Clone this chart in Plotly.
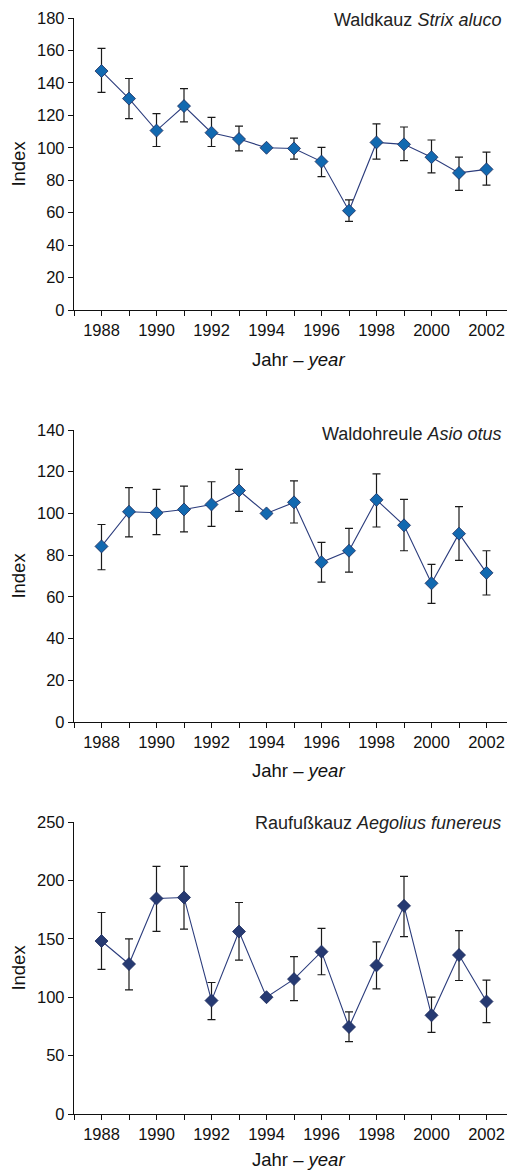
import plotly.graph_objects as go

years = list(range(1988, 2003))
xtick_vals = list(range(1987, 2004))
xtick_text = [str(y) if y % 2 == 0 else "" for y in xtick_vals]

# Waldkauz Strix aluco
strix_val = [147.3, 130.3, 110.6, 125.7, 109.3, 105.4, 100.0, 99.6, 91.5, 61.2, 103.3, 102.1, 94.2, 84.5, 86.7]
strix_hi  = [161.3, 142.7, 121.1, 136.5, 118.7, 113.3, 100.0, 106.0, 100.2, 67.9, 114.7, 112.8, 104.8, 94.2, 97.3]
strix_lo  = [134.2, 118.0, 100.8, 116.0, 100.8, 98.1, 100.0, 93.0, 82.2, 54.6, 93.0, 92.1, 84.5, 73.7, 77.0]

# Waldohreule Asio otus
asio_val = [84.2, 100.8, 100.3, 101.9, 104.3, 111.0, 100.0, 105.3, 76.6, 82.1, 106.5, 94.3, 66.5, 90.3, 71.5]
asio_hi  = [94.7, 112.4, 111.5, 113.1, 115.2, 121.1, 100.0, 115.6, 86.1, 92.8, 119.0, 106.7, 75.6, 103.3, 82.1]
asio_lo  = [73.0, 88.8, 89.8, 91.2, 93.8, 101.0, 100.0, 95.4, 67.1, 71.9, 93.5, 82.1, 56.9, 77.5, 60.9]

# Raufusskauz Aegolius funereus
aeg_val = [148.1, 128.4, 184.5, 185.4, 97.1, 156.2, 100.0, 115.5, 139.0, 74.5, 127.2, 178.2, 84.5, 136.1, 96.3]
aeg_hi  = [172.5, 149.9, 212.0, 212.0, 112.6, 181.1, 100.0, 134.7, 159.0, 87.4, 147.3, 203.4, 100.0, 157.0, 114.6]
aeg_lo  = [123.8, 106.3, 156.4, 158.2, 80.8, 131.8, 100.0, 97.1, 119.2, 61.9, 107.2, 151.9, 69.9, 114.3, 78.2]

panels = [
    ("Waldkauz <i>Strix aluco</i>", strix_val, strix_hi, strix_lo, "#1269b0", [0, 180], 20),
    ("Waldohreule <i>Asio otus</i>", asio_val, asio_hi, asio_lo, "#1269b0", [0, 140], 20),
    ("Raufußkauz <i>Aegolius funereus</i>", aeg_val, aeg_hi, aeg_lo, "#263a72", [0, 250], 50),
]

OFF = 8  # page body margin
W, H = 515 - OFF, 1171 - OFF
ml, mr = 74 - OFF, 1
mt = 18 - OFF
mb = H - (1114 - OFF)
plot_h = H - mt - mb
plot_w = W - ml - mr
# panel pixel spans (top, bottom) in reference page pixels
spans = [(18, 310), (430, 722), (822, 1114)]
xtitle_y = [359, 770, 1159]
title_y = [20, 434, 823]

def py(ref_px):
    return (H - mb - (ref_px - OFF)) / plot_h

def px(ref_px):
    return ((ref_px - OFF) - ml) / plot_w

font_family = "Liberation Sans, Arial, Helvetica, sans-serif"
FS_TICK = 16.5
FS_TITLE = 18
FS_AXT = 18.5
fig = go.Figure()

for i, (title, val, hi, lo, mcol, yr, dt) in enumerate(panels):
    n = i + 1
    xa = "x" if n == 1 else f"x{n}"
    ya = "y" if n == 1 else f"y{n}"
    plus = [h - v for h, v in zip(hi, val)]
    minus = [v - l for v, l in zip(val, lo)]
    fig.add_trace(go.Scatter(
        x=years, y=val, mode="lines+markers",
        line=dict(color="#2b3c7c", width=1.1),
        marker=dict(symbol="diamond", size=10, color=mcol,
                    line=dict(color="#1c2a5a", width=0.8)),
        error_y=dict(type="data", symmetric=False, array=plus, arrayminus=minus,
                     color="#1a1a1a", thickness=1.2, width=4),
        xaxis=xa, yaxis=ya, showlegend=False, cliponaxis=False,
    ))
    top, bot = spans[i]
    dom = [py(bot), py(top)]
    xkey = "xaxis" if n == 1 else f"xaxis{n}"
    ykey = "yaxis" if n == 1 else f"yaxis{n}"
    fig.layout[xkey] = dict(
        range=[1987, 2003], domain=[0, 1], anchor=ya,
        tickmode="array", tickvals=xtick_vals, ticktext=xtick_text,
        ticks="outside", ticklen=5, tickwidth=1.2, tickcolor="#111",
        showline=True, linecolor="#111", linewidth=1.4,
        showgrid=False, zeroline=False,
        tickfont=dict(family=font_family, size=FS_TICK, color="#111"),
    )
    fig.layout[ykey] = dict(
        range=yr, domain=dom, anchor=xa,
        dtick=dt, tick0=0,
        ticks="outside", ticklen=5, tickwidth=1.2, tickcolor="#111",
        showline=True, linecolor="#111", linewidth=1.4,
        showgrid=False, zeroline=False,
        tickfont=dict(family=font_family, size=FS_TICK, color="#111"),
        title=dict(text="Index", standoff=8,
                   font=dict(family=font_family, size=FS_AXT, color="#111")),
    )
    fig.add_annotation(
        text=title, xref="paper", yref="paper",
        x=px(503), y=py(title_y[i]),
        xanchor="right", yanchor="middle", showarrow=False,
        font=dict(family=font_family, size=FS_TITLE, color="#222"),
    )
    fig.add_annotation(
        text="Jahr – <i>year</i>", xref="paper", yref="paper",
        x=px(298), y=py(xtitle_y[i]),
        xanchor="center", yanchor="middle", showarrow=False,
        font=dict(family=font_family, size=FS_AXT, color="#111"),
    )

fig.update_layout(
    width=W, height=H,
    margin=dict(l=ml, r=mr, t=mt, b=mb),
    paper_bgcolor="white", plot_bgcolor="white",
    font=dict(family=font_family, size=FS_TICK, color="#111"),
)

fig.write_html("out.html")
